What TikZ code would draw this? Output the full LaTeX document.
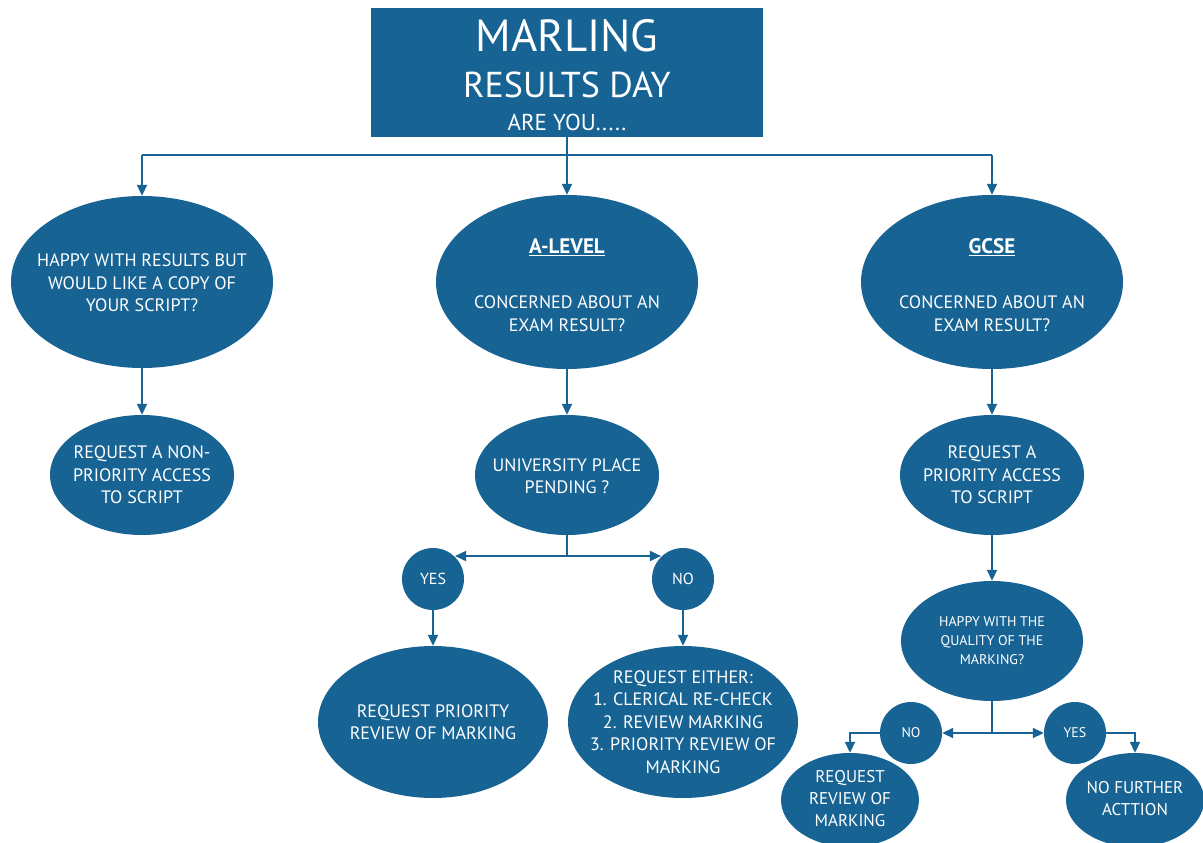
\documentclass[tikz,border=0pt]{standalone}
\usepackage{fontspec}
\setmainfont{PT Sans}
\usetikzlibrary{shapes.geometric,arrows.meta}
\definecolor{mblue}{RGB}{23,99,148}
\begin{document}
\begin{tikzpicture}[x=1pt,y=-1pt,
 blob/.style 2 args={ellipse, fill=mblue, minimum width=#1, minimum height=#2, inner sep=0pt},
 dot/.style={circle, fill=mblue, minimum size=62pt, inner sep=0pt},
 txt/.style={text=white, align=center, font=\fontsize{18}{22.5}\selectfont},
 small/.style={text=white, align=center, font=\fontsize{14}{19}\selectfont},
 mid/.style={text=white, align=center, font=\fontsize{16}{22}\selectfont},
 line/.style={draw=mblue, line width=1.8pt},
 arr/.style={line, -{Triangle[length=11pt,width=10pt]}}]
\useasboundingbox (0,0) rectangle (1203,843);
% title
\node[rectangle, fill=mblue, minimum width=392pt, minimum height=129pt, inner sep=0pt] (title) at (567,72.5) {};
\node[anchor=base, text=white, font=\fontsize{45}{45}\selectfont] (t1) at (567,52) {MARLING};
\node[anchor=base, text=white, font=\fontsize{36}{36}\selectfont] (t2) at (567,97) {RESULTS DAY};
\node[anchor=base, text=white, font=\fontsize{23}{23}\selectfont] (t3) at (567,131) {ARE YOU.....};
% ellipses
\node[blob={262pt}{172pt}] (e1) at (142,282) {};
\node[blob={262pt}{174pt}] (e2) at (567,282) {};
\node[blob={262pt}{174pt}] (e3) at (992,282) {};
\node[blob={184pt}{120pt}] (e4) at (142,475) {};
\node[blob={184pt}{120pt}] (e5) at (567,475) {};
\node[blob={184pt}{120pt}] (e6) at (992,475) {};
\node[dot] (yes1) at (433,579) {};
\node[dot] (no1) at (683,579) {};
\node[blob={230pt}{152pt}] (e7) at (433,722) {};
\node[blob={230pt}{152pt}] (e8) at (683,722) {};
\node[blob={182pt}{120pt}] (e9) at (992,641) {};
\node[dot] (no2) at (911,733) {};
\node[dot] (yes2) at (1075,733) {};
\node[blob={138pt}{94pt}] (e10) at (850,800) {};
\node[blob={138pt}{94pt}] (e11) at (1135,800) {};
% texts
\node[txt] (x1) at (142,283) {HAPPY WITH RESULTS BUT\\WOULD LIKE A COPY OF\\YOUR SCRIPT?};
\node[txt] (x2) at (567,285) {{\fontsize{21}{22.5}\selectfont\bfseries\underline{A-LEVEL}}\\[33pt]CONCERNED ABOUT AN\\EXAM RESULT?};
\node[txt] (x3) at (992,285) {{\fontsize{21}{22.5}\selectfont\bfseries\underline{GCSE}}\\[33pt]CONCERNED ABOUT AN\\EXAM RESULT?};
\node[txt] (x4) at (142,475) {REQUEST A NON-\\PRIORITY ACCESS\\TO SCRIPT};
\node[txt] (x5) at (567,476) {UNIVERSITY PLACE\\PENDING ?};
\node[txt] (x6) at (992,475) {REQUEST A\\PRIORITY ACCESS\\TO SCRIPT};
\node[mid] (x7) at (433,579) {YES};
\node[mid] (x8) at (683,579) {NO};
\node[txt] (x9) at (433,722) {REQUEST PRIORITY\\REVIEW OF MARKING};
\node[txt] (x10) at (683,722) {REQUEST EITHER:\\1. CLERICAL RE-CHECK\\2. REVIEW MARKING\\3. PRIORITY REVIEW OF\\MARKING};
\node[small] (x11) at (992,641) {HAPPY WITH THE\\QUALITY OF THE\\MARKING?};
\node[small] (x12) at (911,733) {NO};
\node[small] (x13) at (1075,733) {YES};
\node[txt, font=\fontsize{17}{22}\selectfont] (x14) at (850,799) {REQUEST\\REVIEW OF\\MARKING};
\node[txt, font=\fontsize{17}{22}\selectfont] (x15) at (1135,799) {NO FURTHER\\ACTTION};
% connectors
\coordinate (j1) at (567,155);
\coordinate (j2) at (567,556);
\coordinate (j3) at (992,733);
\draw[arr] (title.south) -- (e2.north);
\draw[line] (e1.north |- j1) -- (e3.north |- j1);
\draw[arr] (e1.north |- j1) -- (e1.north);
\draw[arr] (e3.north |- j1) -- (e3.north);
\draw[arr] (e1.south) -- (e4.north);
\draw[arr] (e2.south) -- (e5.north);
\draw[arr] (e3.south) -- (e6.north);
\draw[line] (e5.south) -- (j2);
\draw[arr] (j2) -- (yes1.north east |- j2);
\draw[arr] (j2) -- (no1.north west |- j2);
\draw[arr] (yes1.south) -- (e7.north);
\draw[arr] (no1.south) -- (e8.north);
\draw[arr] (e6.south) -- (e9.north);
\draw[line] (e9.south) -- (j3);
\draw[arr] (j3) -- (no2.east);
\draw[arr] (j3) -- (yes2.west);
\draw[arr] (no2.west) -| (e10.north);
\draw[arr] (yes2.east) -| (e11.north);
\end{tikzpicture}
\end{document}
